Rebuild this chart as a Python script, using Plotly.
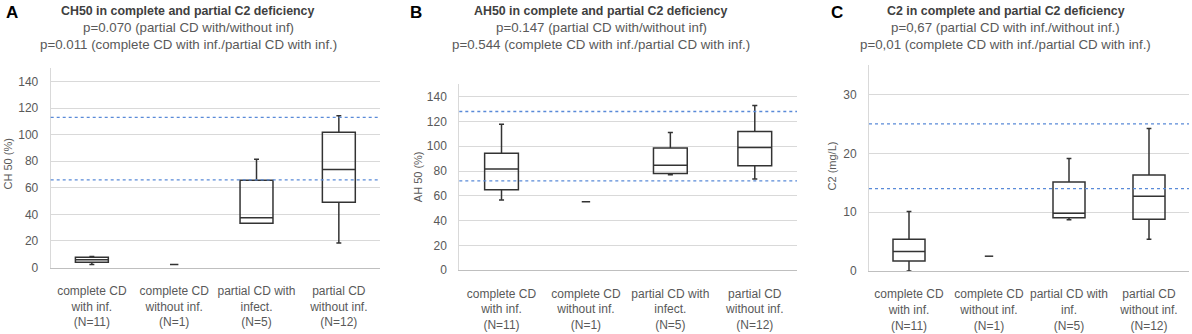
import plotly.graph_objects as go

W, H = 1192, 334

# ---------------- data ----------------
cat_lines_AB = [["complete CD", "with inf.", "(N=11)"],
                ["complete CD", "without inf.", "(N=1)"],
                ["partial CD with", "infect.", "(N=5)"],
                ["partial CD", "without inf.", "(N=12)"]]
cat_lines_C = [["complete CD", "with inf.", "(N=11)"],
               ["complete CD", "without inf.", "(N=1)"],
               ["partial CD with", "inf.", "(N=5)"],
               ["partial CD", "without inf.", "(N=12)"]]
categories_AB = ["<br>".join(c) for c in cat_lines_AB]
categories_C = ["<br>".join(c) for c in cat_lines_C]

# Panel A: CH50 (%)
a_q1 = [4.0, 33.3, 49.1]
a_median = [5.8, 37.5, 73.8]
a_q3 = [7.8, 65.8, 101.9]
a_low = [2.4, 33.3, 18.5]
a_high = [8.4, 81.5, 114.2]
a_single = [2.4]
a_ref = [66, 113]

# Panel B: AH50 (%)
b_q1 = [64.9, 78.0, 84.3]
b_median = [81.7, 84.6, 99.0]
b_q3 = [94.3, 98.5, 111.9]
b_low = [56.7, 77.0, 73.5]
b_high = [117.7, 111.1, 132.9]
b_single = [55.2]
b_ref = [72, 128]

# Panel C: C2 (mg/L)
c_q1 = [1.7, 9.05, 8.8]
c_median = [3.3, 9.8, 12.7]
c_q3 = [5.4, 15.1, 16.3]
c_low = [0.0, 8.7, 5.4]
c_high = [10.1, 19.1, 24.2]
c_single = [2.5]
c_ref = [14, 25]

titles = ["CH50 in complete and partial C2 deficiency",
          "AH50 in complete and partial C2 deficiency",
          "C2 in complete and partial C2 deficiency"]
subtitles = [["p=0.070 (partial CD with/without inf)",
              "p=0.011 (complete CD with inf./partial CD with inf.)"],
             ["p=0.147 (partial CD with/without inf)",
              "p=0.544 (complete CD with inf./partial CD with inf.)"],
             ["p=0,67 (partial CD with inf./without inf.)",
              "p=0,01 (complete CD with inf./partial CD with inf.)"]]
letters = ["A", "B", "C"]
ytitles = ["CH 50 (%)", "AH 50 (%)", "C2 (mg/L)"]

# ---------------- styling ----------------
FONT = "Liberation Sans, Arial, sans-serif"
BOX_COLOR = "#333333"
REF_COLOR = "#5a8ad8"
GRID = "#d9d9d9"
TXT = "#595959"

panels = [
    dict(cats=categories_AB, q1=a_q1, med=a_median, q3=a_q3, lo=a_low, hi=a_high,
         single=a_single, ref=a_ref, yrange=[0, 150], dtick=20,
         xdom=[50.7 / W, 380 / W], ydom=[1 - 273.3 / H, 1 - 69.7 / H],
         title_x=188, letter_x=12, ytitle_x=8, ytitle_y=168),
    dict(cats=categories_AB, q1=b_q1, med=b_median, q3=b_q3, lo=b_low, hi=b_high,
         single=b_single, ref=b_ref, yrange=[0, 150], dtick=20,
         xdom=[459.3 / W, 797 / W], ydom=[1 - 276 / H, 1 - 86 / H],
         title_x=601, letter_x=416, ytitle_x=418, ytitle_y=181),
    dict(cats=categories_C, q1=c_q1, med=c_median, q3=c_q3, lo=c_low, hi=c_high,
         single=c_single, ref=c_ref, yrange=[0, 35], dtick=10,
         xdom=[869 / W, 1189 / W], ydom=[1 - 276.7 / H, 1 - 66.5 / H],
         title_x=1005.5, letter_x=837, ytitle_x=832, ytitle_y=170),
]

fig = go.Figure()
annotations = []
shapes = []

for i, p in enumerate(panels):
    n = "" if i == 0 else str(i + 1)
    xa, ya = "x" + n, "y" + n
    box_cats = [p["cats"][0], p["cats"][2], p["cats"][3]]
    fig.add_trace(go.Box(
        x=box_cats, q1=p["q1"], median=p["med"], q3=p["q3"],
        lowerfence=p["lo"], upperfence=p["hi"],
        xaxis=xa, yaxis=ya, width=0.4, whiskerwidth=0.15,
        fillcolor="rgba(255,255,255,0)",
        line=dict(color=BOX_COLOR, width=1.5),
        boxpoints=False, showlegend=False, hoverinfo="skip"))
    fig.add_trace(go.Scatter(
        x=[p["cats"][1]], y=p["single"], mode="markers",
        xaxis=xa, yaxis=ya,
        marker=dict(symbol="line-ew-open", size=6, color=BOX_COLOR,
                    line=dict(color=BOX_COLOR, width=1.5)),
        showlegend=False, hoverinfo="skip"))
    for r in p["ref"]:
        shapes.append(dict(type="line", xref=xa + " domain", yref=ya,
                           x0=0, x1=1, y0=r, y1=r,
                           line=dict(color=REF_COLOR, width=1.3, dash="dot"),
                           layer="above"))
    fig.update_layout(**{
        "xaxis" + n: dict(domain=p["xdom"], anchor=ya, type="category",
                          categoryorder="array", categoryarray=p["cats"],
                          range=[-0.5, 3.5], showline=True, linecolor="#bfbfbf",
                          linewidth=1, showgrid=False, zeroline=False, ticks="",
                          ticklabelstandoff=12,
                          tickfont=dict(family=FONT, size=12, color=TXT)),
        "yaxis" + n: dict(domain=p["ydom"], anchor=xa, range=p["yrange"],
                          dtick=p["dtick"], tick0=0, showline=True,
                          linecolor=GRID, linewidth=1, showgrid=True,
                          gridcolor=GRID, gridwidth=1, zeroline=False, ticks="",
                          ticklabelstandoff=9,
                          tickfont=dict(family=FONT, size=12, color=TXT)),
    })
    # titles
    annotations.append(dict(text="<b>" + titles[i] + "</b>", x=p["title_x"] / W,
                            y=1 - 11.5 / H, xref="paper", yref="paper",
                            xanchor="center", yanchor="middle", showarrow=False,
                            font=dict(family=FONT, size=12.4, color="#404040")))
    for j, s in enumerate(subtitles[i]):
        annotations.append(dict(text=s, x=p["title_x"] / W, y=1 - (28 + 17 * j) / H,
                                xref="paper", yref="paper", xanchor="center",
                                yanchor="middle", showarrow=False,
                                font=dict(family=FONT, size=13.3, color=TXT)))
    annotations.append(dict(text="<b>" + letters[i] + "</b>", x=p["letter_x"] / W,
                            y=1 - 13 / H, xref="paper", yref="paper",
                            xanchor="center", yanchor="middle", showarrow=False,
                            font=dict(family=FONT, size=17, color="#000000")))
    annotations.append(dict(text=ytitles[i], x=p["ytitle_x"] / W,
                            y=1 - p["ytitle_y"] / H, xref="paper", yref="paper",
                            xanchor="center", yanchor="middle", textangle=-90,
                            showarrow=False,
                            font=dict(family=FONT, size=11, color=TXT)))

fig.update_layout(width=W, height=H, margin=dict(l=0, r=0, t=0, b=0),
                  paper_bgcolor="white", plot_bgcolor="white",
                  annotations=annotations, shapes=shapes, showlegend=False)

fig.write_html("out.html", config={"displayModeBar": False},
               post_script="document.body.style.margin='0px';"
                           "document.body.style.overflow='hidden';")
